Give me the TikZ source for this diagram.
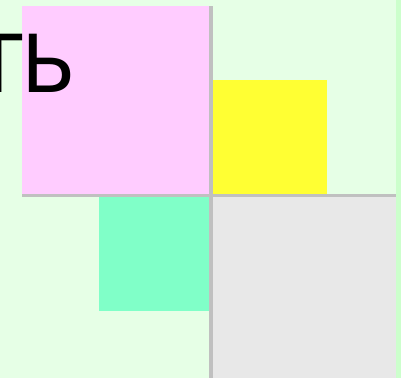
\documentclass[tikz,border=0pt]{standalone}
\usepackage{fontspec}
\setmainfont{DejaVu Sans}
\usepackage{xcolor}
\definecolor{paleground}{HTML}{E6FFE6}
\definecolor{edgegreen}{HTML}{CCFFCC}
\definecolor{pinkbox}{HTML}{FFCCFF}
\definecolor{yellowbox}{HTML}{FFFF33}
\definecolor{mintbox}{HTML}{80FFC8}
\definecolor{greybox}{HTML}{E8E8E8}
\definecolor{splitline}{HTML}{C0C0C0}

\begin{document}
\begin{tikzpicture}[x=1pt, y=-1pt,
  splitter/.style={draw=splitline, line width=3.5pt},
  bigword/.style={font=\fontsize{80}{88}\selectfont, inner sep=0pt, anchor=base east},
]
  % background and bounds
  \fill[paleground] (0,0) rectangle (401,378);
  \fill[edgegreen] (396,0) rectangle (401,378);
  \useasboundingbox (0,0) rectangle (401,378);
  % the four squares
  \fill[pinkbox] (22,6) rectangle (211,195);
  \fill[yellowbox] (211,80) rectangle (327,195);
  \fill[mintbox] (99,195) rectangle (211,311);
  \fill[greybox] (211,195) rectangle (396,378);
  % cut text
  \node[bigword] (word) at (77,92) {ТЬ};
  % dividing lines
  \draw[splitter] (211,6) -- (211,378);
  \draw[splitter] (22,195.5) -- (396,195.5);
\end{tikzpicture}
\end{document}
